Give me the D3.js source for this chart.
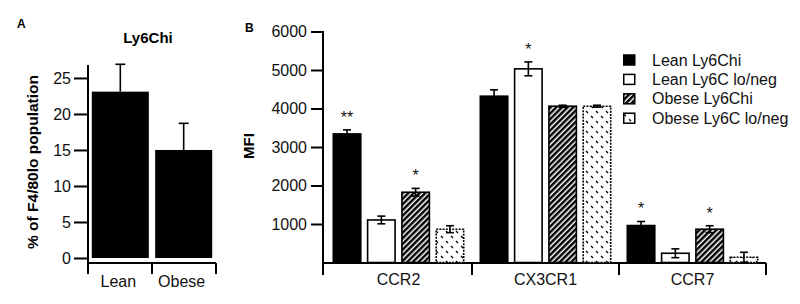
<!DOCTYPE html>
<html>
<head>
<meta charset="utf-8">
<script src="https://cdn.jsdelivr.net/npm/d3@7"></script>
<style>
  body { margin: 0; background: #fff; }
  svg { display: block; font-family: "Liberation Sans", Arial, sans-serif; }
</style>
</head>
<body>
<svg id="chart" width="800" height="304"></svg>
<script>
// panel A data
let groupsA = ['Lean', 'Obese'];
let valuesA = [23.1, 15.0];
let errorsA = [3.8, 3.7];
let ticksA = [0, 5, 10, 15, 20, 25];

// panel B data
let groupsB = ['CCR2', 'CX3CR1', 'CCR7'];
let seriesB = ['Lean Ly6Chi', 'Lean Ly6C lo/neg', 'Obese Ly6Chi', 'Obese Ly6C lo/neg'];
let leanHi = [3340, 4320, 960];
let leanLo = [1105, 5030, 240];
let obeseHi = [1825, 4060, 865];
let obeseLo = [865, 4060, 135];
let leanHiErr = [105, 165, 105];
let leanLoErr = [100, 180, 115];
let obeseHiErr = [100, 25, 90];
let obeseLoErr = [90, 25, 130];
let leanHiSig = ['**', '', '*'];
let leanLoSig = ['', '*', ''];
let obeseHiSig = ['*', '', '*'];
let obeseLoSig = ['', '', ''];
let ticksB = [1000, 2000, 3000, 4000, 5000, 6000];

let svg = d3.select('#chart');
let defs = svg.append('defs');

//斜线填充
let hatch = defs.append('pattern')
    .attr('id', 'hatch')
    .attr('patternUnits', 'userSpaceOnUse')
    .attr('width', 4).attr('height', 4)
    .attr('patternTransform', 'rotate(45)');
hatch.append('rect').attr('width', 4).attr('height', 4).attr('fill', '#fff');
hatch.append('rect').attr('width', 2.5).attr('height', 4).attr('fill', '#000');

//点状填充
let dots = defs.append('pattern')
    .attr('id', 'dots')
    .attr('patternUnits', 'userSpaceOnUse')
    .attr('width', 10).attr('height', 10);
dots.append('rect').attr('width', 10).attr('height', 10).attr('fill', '#fff');
dots.append('line').attr('x1', 1).attr('y1', 6).attr('x2', 3).attr('y2', 8)
    .attr('stroke', '#000').attr('stroke-width', 1.2);
dots.append('line').attr('x1', 6).attr('y1', 1).attr('x2', 8).attr('y2', 3)
    .attr('stroke', '#000').attr('stroke-width', 1.2);

let fills = ['#000', '#fff', 'url(#hatch)', 'url(#dots)'];

function styleAxis(g) {
    g.selectAll('path').remove();
    g.selectAll('line').attr('stroke', '#000').attr('stroke-width', 2);
    g.selectAll('text').attr('font-size', 16).attr('fill', '#111');
}

function errorBar(g, x, yTop, yBot, w) {
    g.append('line').attr('x1', x).attr('x2', x).attr('y1', yTop).attr('y2', yBot)
        .attr('stroke', '#000').attr('stroke-width', 1.6);
    g.append('line').attr('x1', x - w / 2).attr('x2', x + w / 2).attr('y1', yTop).attr('y2', yTop)
        .attr('stroke', '#000').attr('stroke-width', 1.6);
}

// ---------- panel A ----------
let xA = d3.scaleBand().domain(groupsA).range([88, 216]).paddingInner(0.1).paddingOuter(0.06);
let yA = d3.scaleLinear().domain([0, 26.8]).range([258, 65]);

let gA = svg.append('g');
gA.append('text').attr('x', 17).attr('y', 28).attr('font-size', 12).attr('font-weight', 'bold').text('A');
gA.append('text').attr('x', 148).attr('y', 43).attr('text-anchor', 'middle')
    .attr('font-size', 15).attr('font-weight', 'bold').text('Ly6Chi');
gA.append('text').attr('transform', 'translate(38,162) rotate(-90)').attr('text-anchor', 'middle')
    .attr('font-size', 15.5).attr('font-weight', 'bold').text('% of F4/80lo population');

let axA = gA.append('g').attr('transform', 'translate(88,0)')
    .call(d3.axisLeft(yA).tickValues(ticksA).tickSize(14).tickPadding(3).tickFormat(d3.format('d')));
styleAxis(axA);
gA.append('line').attr('x1', 88).attr('x2', 88).attr('y1', 65).attr('y2', 274)
    .attr('stroke', '#000').attr('stroke-width', 2);
gA.append('line').attr('x1', 88).attr('x2', 216).attr('y1', 263).attr('y2', 263)
    .attr('stroke', '#000').attr('stroke-width', 2);
[88, xA('Obese') - xA.step() * xA.paddingInner() / 2, 216].forEach(function (x) {
    gA.append('line').attr('x1', x).attr('x2', x).attr('y1', 263).attr('y2', 274)
        .attr('stroke', '#000').attr('stroke-width', 2);
});
groupsA.forEach(function (c, i) {
    gA.append('rect').attr('x', xA(c)).attr('y', yA(valuesA[i]))
        .attr('width', xA.bandwidth()).attr('height', yA(0) - yA(valuesA[i])).attr('fill', '#000');
    errorBar(gA, xA(c) + xA.bandwidth() / 2, yA(valuesA[i] + errorsA[i]), yA(valuesA[i]), 10);
    gA.append('text').attr('x', xA(c) + xA.bandwidth() / 2 - 2).attr('y', 287).attr('text-anchor', 'middle')
        .attr('font-size', 16).attr('fill', '#111').text(c);
});

// ---------- panel B ----------
let xB = d3.scaleBand().domain(groupsB).range([325, 766]);
let xS = d3.scaleBand().domain(seriesB).range([0, xB.bandwidth()]).paddingInner(0.155).paddingOuter(0.22);
let yB = d3.scaleLinear().domain([0, 6000]).range([262.5, 31.5]);

let gB = svg.append('g');
gB.append('text').attr('x', 245).attr('y', 32).attr('font-size', 12).attr('font-weight', 'bold').text('B');
gB.append('text').attr('transform', 'translate(254,146) rotate(-90)').attr('text-anchor', 'middle')
    .attr('font-size', 15).attr('font-weight', 'bold').text('MFI');

let axB = gB.append('g').attr('transform', 'translate(323,0)')
    .call(d3.axisLeft(yB).tickValues(ticksB).tickSize(12).tickPadding(4).tickFormat(d3.format('d')));
styleAxis(axB);
gB.append('line').attr('x1', 323).attr('x2', 323).attr('y1', 31).attr('y2', 275)
    .attr('stroke', '#000').attr('stroke-width', 2);
gB.append('line').attr('x1', 323).attr('x2', 766).attr('y1', 263).attr('y2', 263)
    .attr('stroke', '#000').attr('stroke-width', 2);
groupsB.forEach(function (c) {
    gB.append('line').attr('x1', xB(c) + xB.bandwidth()).attr('x2', xB(c) + xB.bandwidth())
        .attr('y1', 263).attr('y2', 275).attr('stroke', '#000').attr('stroke-width', 2);
    gB.append('text').attr('x', xB(c) + xB.bandwidth() / 2).attr('y', 285).attr('text-anchor', 'middle')
        .attr('font-size', 16).attr('fill', '#111').text(c);
});

let seriesData = [
    {values: leanHi, errs: leanHiErr, sig: leanHiSig},
    {values: leanLo, errs: leanLoErr, sig: leanLoSig},
    {values: obeseHi, errs: obeseHiErr, sig: obeseHiSig},
    {values: obeseLo, errs: obeseLoErr, sig: obeseLoSig}
];

seriesData.forEach(function (s, si) {
    groupsB.forEach(function (c, ci) {
        let v = s.values[ci];
        let x0 = xB(c) + xS(seriesB[si]);
        let bw = xS.bandwidth();
        let bar = gB.append('rect').attr('x', x0 + 0.75).attr('y', yB(v))
            .attr('width', bw - 1.5).attr('height', yB(0) - yB(v))
            .attr('fill', fills[si]).attr('stroke', '#000').attr('stroke-width', 1.6);
        if (si === 3) bar.attr('stroke-dasharray', '2,1.2');
        let cx = x0 + bw / 2;
        let yLow = yB(Math.max(v - s.errs[ci], 0));
        errorBar(gB, cx, yB(v + s.errs[ci]), yLow, 8);
        if (si !== 0) {
            gB.append('line').attr('x1', cx - 4).attr('x2', cx + 4).attr('y1', yLow).attr('y2', yLow)
                .attr('stroke', '#000').attr('stroke-width', 1.6);
        }
        if (s.sig[ci]) {
            gB.append('text').attr('x', cx).attr('y', yB(v + s.errs[ci]) - 7).attr('text-anchor', 'middle')
                .attr('font-size', 16).attr('fill', '#111').text(s.sig[ci]);
        }
    });
});

//legend
let legend = gB.append('g').attr('transform', 'translate(623,60)');
seriesB.forEach(function (name, i) {
    let row = legend.append('g').attr('transform', 'translate(0,' + (i * 19.4) + ')');
    row.append('rect').attr('x', 0.75).attr('y', -5).attr('width', 11).attr('height', 10)
        .attr('fill', fills[i]).attr('stroke', '#000').attr('stroke-width', 1.5);
    row.append('text').attr('x', 29).attr('y', 5.5).attr('font-size', 16).attr('fill', '#111').text(name);
});
</script>
</body>
</html>
